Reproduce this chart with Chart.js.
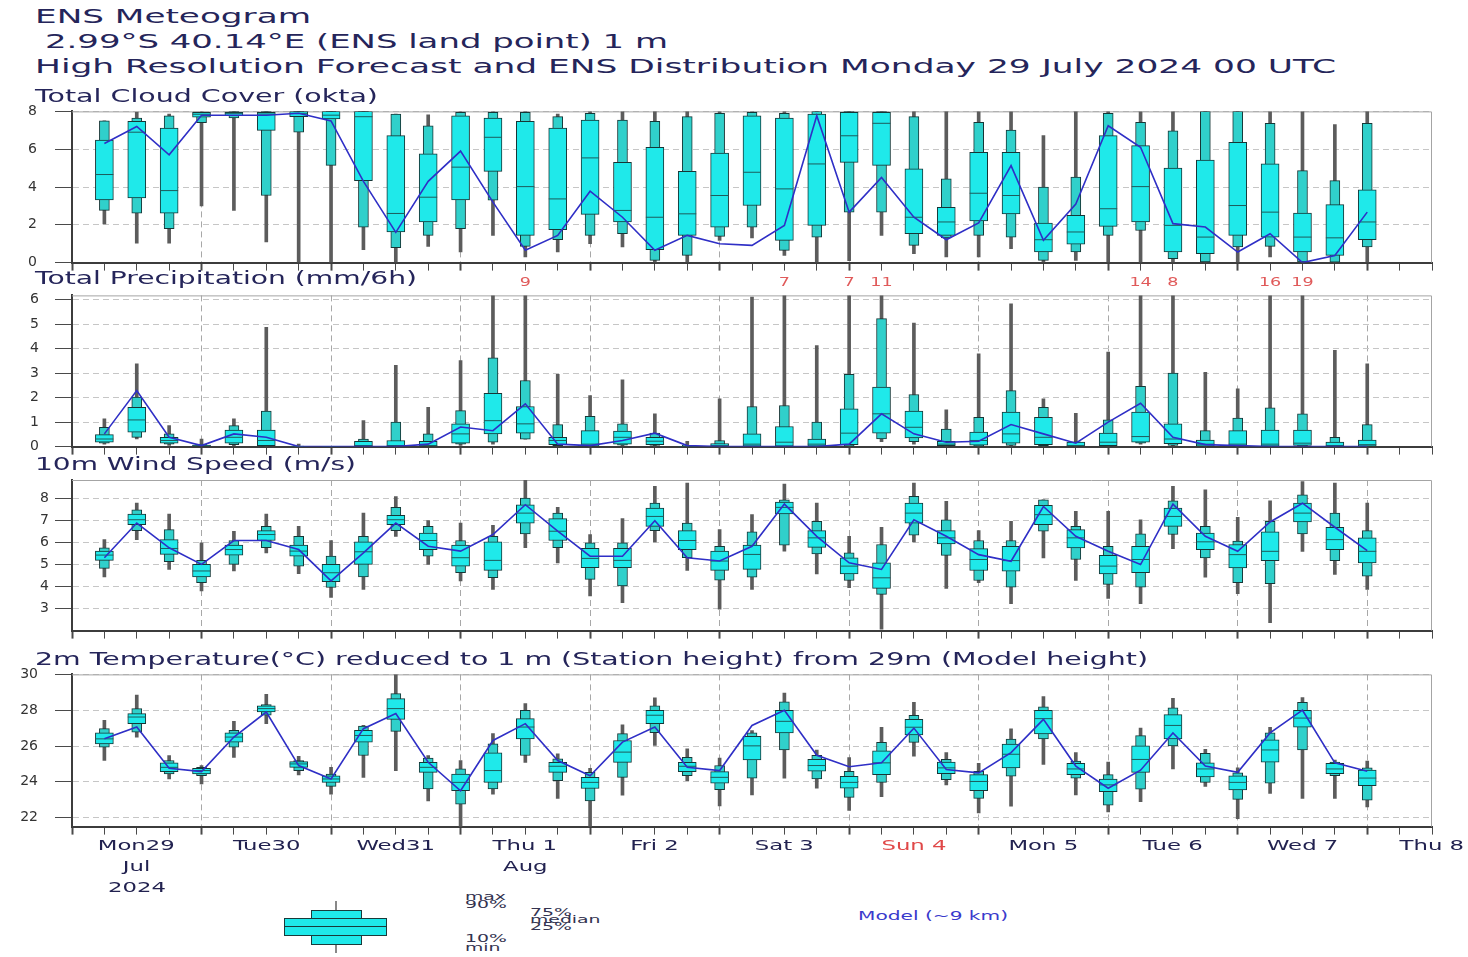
<!DOCTYPE html>
<html><head><meta charset="utf-8">
<script src="https://cdn.jsdelivr.net/npm/chart.js@4.4.1/dist/chart.umd.min.js"></script>
<style>
html,body{margin:0;padding:0;background:#fff;width:1468px;height:957px;overflow:hidden;}
#root{position:relative;width:1468px;height:957px;}
canvas{position:absolute;left:0;}
.t{position:absolute;white-space:pre;font-family:'DejaVu Sans',sans-serif;color:#25255a;transform-origin:0 50%;line-height:1;z-index:5;}
.d{position:absolute;white-space:pre;font-family:'DejaVu Sans Condensed','DejaVu Sans',sans-serif;font-stretch:condensed;color:#222250;line-height:1;font-size:14px;z-index:5;transform-origin:50% 50%;}
.lg{position:absolute;white-space:pre;font-family:'DejaVu Sans Condensed','DejaVu Sans',sans-serif;font-stretch:condensed;color:#333350;line-height:1;font-size:11px;z-index:5;transform:scaleX(1.9);transform-origin:0 50%;}
.box{position:absolute;box-sizing:border-box;}
</style></head>
<body><div id="root">
<div class="t" style="left:35px;top:7px;font-size:19px" data-w="276">ENS Meteogram</div>
<div class="t" style="left:45px;top:32px;font-size:19px" data-w="623">2.99°S 40.14°E (ENS land point) 1 m</div>
<div class="t" style="left:35px;top:57px;font-size:19px" data-w="1301">High Resolution Forecast and ENS Distribution Monday 29 July 2024 00 UTC</div>
<div class="t" style="left:35px;top:88px;font-size:17px" data-w="343">Total Cloud Cover (okta)</div>
<div class="t" style="left:35px;top:270px;font-size:17px" data-w="382">Total Precipitation (mm/6h)</div>
<div class="t" style="left:35px;top:456px;font-size:17px" data-w="321">10m Wind Speed (m/s)</div>
<div class="t" style="left:35px;top:651px;font-size:17px" data-w="1113">2m Temperature(°C) reduced to 1 m (Station height) from 29m (Model height)</div>

<canvas id="c1"></canvas><canvas id="c2"></canvas><canvas id="c3"></canvas><canvas id="c4"></canvas>

<div class="box" style="left:335px;top:901px;width:2px;height:52px;background:#888"></div>
<div class="box" style="left:311px;top:910px;width:51px;height:35px;background:#1fe9ea;border:1px solid #1a3a3a"></div>
<div class="box" style="left:284px;top:918px;width:103px;height:18px;background:#1fe9ea;border:1px solid #1a3a3a"></div>
<div class="box" style="left:284px;top:926px;width:103px;height:1px;background:#1a3a3a"></div>
<div class="lg" style="left:465px;top:891px">max</div>
<div class="lg" style="left:465px;top:899px">90%</div>
<div class="lg" style="left:530px;top:907px">75%</div>
<div class="lg" style="left:530px;top:914px">median</div>
<div class="lg" style="left:530px;top:921px">25%</div>
<div class="lg" style="left:465px;top:933px">10%</div>
<div class="lg" style="left:465px;top:942px">min</div>
<div class="t" style="left:858px;top:909px;font-size:13px;color:#3a3acc" data-w="150">Model (~9 km)</div>
<div id="xl"></div>
</div>
<script>
const hours=[6,12,18,24,30,36,42,48,54,60,66,72,78,84,90,96,102,108,114,120,126,132,138,144,150,156,162,168,174,180,186,192,198,204,210,216,222,228,234,240];

const cloudMin=[2.05,1.03,1.03,3.0,2.76,1.09,0,0,0.68,0,0.86,0.56,1.44,0.3,0.56,1.0,0.83,0,0,1.18,1.3,0.38,0,0.1,1.44,0.47,0.3,0.3,0.74,0,0.12,0,0,0,0,0,0.3,0,0,0];
const cloudP10=[2.76,2.62,1.79,7.4,7.65,3.55,6.9,5.14,1.88,0.79,1.44,1.79,3.3,0.86,1.21,1.44,1.53,0.12,0.38,1.39,1.88,0.65,1.35,2.67,2.67,0.91,1.31,1.44,1.35,0.12,0.56,1.44,1.7,0.21,0.03,0.83,0.86,0.03,0,0.83];
const cloudP25=[3.32,3.42,2.62,7.7,7.77,7.0,7.72,7.6,4.34,1.62,2.15,3.32,4.83,1.44,1.74,2.55,2.15,0.68,1.44,1.88,3.02,1.18,1.97,5.3,5.14,1.53,1.44,2.2,2.58,0.56,0.97,1.92,2.15,0.56,0.47,1.44,1.35,0.56,0.38,1.21];
const cloudMed=[4.66,6.9,3.81,7.85,7.9,7.86,7.9,7.8,7.72,2.6,3.46,5.05,6.63,4.02,3.37,5.54,2.76,2.4,2.58,3.55,4.78,3.9,5.22,6.71,7.37,2.4,2.15,3.67,3.55,1.21,1.62,2.85,4.02,1.97,1.35,3.02,2.67,1.35,1.31,2.15];
const cloudP75=[6.48,7.47,7.12,7.95,7.95,7.95,8,8,8,6.72,5.75,7.77,7.65,7.47,7.12,7.54,5.3,6.1,4.83,5.79,7.77,7.65,7.86,7.95,7.95,4.96,2.93,5.84,5.84,2.09,2.5,6.72,6.19,5.0,5.43,6.36,5.22,2.62,3.07,3.85];
const cloudP90=[7.5,7.65,7.77,7.95,8,8,8,8,8,7.86,7.24,7.95,7.95,7.95,7.72,7.9,7.54,7.47,7.72,7.9,7.95,7.9,8,8,8,7.72,4.43,7.42,7.01,3.99,4.52,7.9,7.42,6.97,8,8,7.37,4.87,4.34,7.37];
const cloudMax=[7.5,7.95,7.86,8,8,8,8,8,8,7.86,7.82,8,8,8,7.86,8,8,8,8,8,8,8,8,8,8,8,8,8,8,6.72,8,8,8,8,8,8,8,8,7.3,8];
const cloudModel=[6.3,7.2,5.7,7.8,7.8,7.8,7.9,7.5,4.3,1.6,4.3,5.9,3.2,0.65,1.44,3.78,2.4,0.65,1.44,1.0,0.91,1.97,7.77,2.67,4.5,2.4,1.21,2.1,5.13,1.18,3.1,7.24,6.1,2.06,1.88,0.56,1.53,0.0,0.38,2.67];

const precMin=[0.1,0.31,0.05,0,0.03,0,0,0,0,0,0,0.05,0.1,0.3,0,0,0.03,0.02,0,0,0,0,0,0,0.2,0.1,0,0,0,0,0,0,0.1,0,0,0,0,0,0,0];
const precP10=[0.14,0.38,0.1,0,0.08,0.02,0,0,0,0,0,0.1,0.18,0.3,0.04,0,0.06,0.05,0,0,0,0,0,0,0.31,0.2,0,0,0.05,0.04,0,0,0.14,0.05,0,0,0,0,0,0];
const precP25=[0.18,0.59,0.14,0.02,0.14,0.04,0,0,0,0,0,0.14,0.52,0.55,0.08,0,0.1,0.08,0,0,0,0,0,0.08,0.55,0.35,0.04,0.06,0.14,0.08,0,0.04,0.18,0.12,0.02,0,0,0.05,0,0];
const precMed=[0.31,1.09,0.25,0.04,0.38,0.25,0,0,0.04,0.04,0.04,0.52,1.06,0.93,0.25,0.1,0.38,0.22,0,0.03,0.1,0.18,0.1,0.55,1.34,0.79,0.1,0.25,0.52,0.38,0.04,0.18,0.41,0.31,0.1,0.1,0.1,0.14,0.04,0.08];
const precP75=[0.49,1.61,0.38,0.06,0.68,0.68,0,0,0.22,0.25,0.22,0.93,2.18,1.64,0.38,0.65,0.63,0.38,0,0.12,0.52,0.82,0.31,1.54,2.43,1.45,0.22,0.59,1.41,1.2,0.18,0.55,1.41,0.93,0.27,0.65,0.68,0.68,0.18,0.27];
const precP90=[0.79,2.02,0.52,0.1,0.86,1.45,0.02,0,0.31,1.0,0.52,1.47,3.63,2.7,0.9,1.24,0.93,0.55,0.05,0.25,1.64,1.68,1.0,2.95,5.23,2.13,0.72,1.2,2.29,1.61,0.2,1.09,2.46,3.0,0.65,1.17,1.58,1.34,0.38,0.9];
const precMax=[1.13,3.38,0.86,0.31,1.13,4.88,0.1,0,1.06,3.32,1.61,3.52,6.2,9,2.95,2.09,2.73,1.34,0.22,1.95,6.11,7,4.13,7,11,5.05,1.5,3.79,5.84,1.95,1.36,3.86,14,8,3.04,2.36,16,19,3.93,3.38];
const precModel=[0.52,2.29,0.38,0.04,0.52,0.38,0,0,0,0,0.1,0.8,0.65,1.75,0.1,0.04,0.25,0.55,0.04,0,0,0,0,0.1,1.34,0.52,0.18,0.22,0.9,0.52,0.14,1.0,1.77,0.38,0.08,0.04,0,0,0,0];

const windMin=[4.43,6.12,4.77,3.8,4.7,5.52,4.58,3.5,3.87,6.27,5.0,4.25,3.87,5.75,5.07,3.57,3.27,6.02,4.73,2.97,3.86,5.6,4.57,3.94,2.06,6.02,3.91,4.17,3.22,5.29,4.27,3.46,3.22,5.71,4.42,3.67,2.36,5.59,4.54,3.86];
const windP10=[4.82,6.53,5.12,4.17,5.0,5.75,4.92,3.95,4.43,6.53,5.37,4.62,4.4,6.38,5.75,4.32,4.02,6.53,5.3,4.28,4.42,5.87,5.47,4.27,3.64,6.32,5.41,4.27,3.97,6.5,5.22,4.09,3.97,6.35,5.29,4.17,4.12,6.38,5.17,4.47];
const windP25=[5.18,6.8,5.45,4.43,5.42,6.08,5.37,4.22,5.0,6.8,5.67,4.92,4.73,6.87,6.08,4.85,4.85,6.72,5.67,4.73,4.77,7.28,5.77,4.57,3.91,6.87,5.92,4.72,4.69,6.8,5.74,4.57,4.62,6.72,5.67,4.84,5.17,6.92,5.67,5.07];
const windMed=[5.42,7.02,5.72,4.7,5.67,6.35,5.6,4.62,5.57,7.02,6.08,5.3,5.18,7.32,6.5,5.27,5.18,7.17,6.08,5.15,5.45,7.58,6.2,4.92,4.39,7.32,6.2,5.22,5.17,7.25,6.2,4.92,5.22,7.17,6.02,5.44,5.59,7.32,6.12,5.59];
const windP75=[5.6,7.28,6.12,5.0,5.87,6.53,5.87,5.0,6.02,7.22,6.42,5.87,6.02,7.7,7.07,5.72,5.72,7.55,6.53,5.6,5.87,7.82,6.53,5.3,5.07,7.77,6.53,5.71,5.82,7.67,6.57,5.41,5.82,7.55,6.42,5.9,6.47,7.77,6.68,6.2];
const windP90=[5.75,7.47,6.57,5.18,6.08,6.72,6.27,5.37,6.27,7.58,6.72,6.08,6.27,8.0,7.32,5.97,5.97,7.77,6.87,5.82,6.47,7.92,6.95,5.52,5.9,8.08,7.02,6.08,6.08,7.92,6.72,5.82,6.38,7.88,6.72,6.05,6.95,8.15,7.32,6.53];
const windMax=[6.12,7.77,7.28,5.97,6.5,7.28,6.72,6.08,7.32,8.07,6.98,6.87,6.77,8.83,7.58,6.35,7.07,8.53,8.68,6.57,7.25,8.63,7.77,6.27,6.68,8.68,7.85,6.53,6.95,7.92,7.4,7.4,7.02,8.53,8.38,7.13,7.88,8.75,8.68,7.77];
const windModel=[5.3,6.87,5.75,5.0,6.08,6.08,5.67,4.25,5.52,6.87,5.82,5.6,6.35,7.7,6.5,5.37,5.37,6.98,5.3,5.15,5.82,7.73,6.27,5.07,4.77,7.02,6.27,5.44,5.14,7.62,6.27,5.59,4.99,7.73,6.27,5.59,6.92,7.77,6.68,5.62];

const tempMin=[25.19,26.5,24.16,23.88,25.37,27.25,24.38,23.31,24.25,24.63,22.94,21.3,23.31,25.09,23.07,21.3,23.26,26.03,24.06,22.66,23.27,24.21,23.64,22.41,23.17,25.44,23.83,22.26,22.64,24.97,23.27,22.32,22.89,24.72,23.74,21.94,23.36,23.08,23.08,22.6];
const tempP10=[25.94,26.78,24.44,24.34,25.94,27.72,24.63,23.75,25.47,26.82,23.6,22.75,23.6,25.47,24.06,22.94,24.25,26.74,24.34,23.56,24.21,25.78,24.16,23.13,23.97,26.2,24.12,23.08,24.31,26.39,24.21,22.7,23.59,26.01,23.97,23.02,23.93,25.78,24.34,22.98];
const tempP25=[26.12,27.25,24.57,24.44,26.22,27.9,24.81,23.97,26.22,27.49,24.53,23.5,23.97,26.4,24.53,23.63,25.09,27.25,24.57,23.93,25.22,26.73,24.59,23.64,24.4,26.62,24.46,23.51,24.78,26.67,24.4,23.45,24.53,26.39,24.27,23.55,25.1,27.05,24.46,23.78];
const tempMed=[26.4,27.62,24.81,24.63,26.5,28.09,25.0,24.16,26.59,28.09,24.81,23.97,24.63,27.06,24.87,23.97,25.66,27.72,24.87,24.25,26.01,27.38,24.91,23.97,25.06,27.05,24.78,24.02,25.54,27.53,24.72,23.83,25.25,27.15,24.72,23.97,25.78,27.56,24.72,24.21];
const tempP75=[26.74,27.81,25.06,24.76,26.74,28.24,25.13,24.34,26.87,28.65,25.09,24.44,25.62,27.53,25.09,24.25,26.31,28.0,25.09,24.57,26.54,28.0,25.25,24.31,25.73,27.49,25.1,24.4,26.11,28.0,25.03,24.16,26.01,27.75,25.06,24.34,26.35,28.0,25.03,24.65];
const tempP90=[26.97,28.09,25.19,24.81,26.87,28.31,25.19,24.44,27.12,28.93,25.32,24.72,26.12,28.0,25.28,24.53,26.69,28.24,25.37,24.91,26.73,28.47,25.48,24.59,26.2,27.72,25.25,24.59,26.39,28.19,25.16,24.4,26.58,28.13,25.59,24.5,26.73,28.44,25.1,24.78];
const tempMax=[27.43,28.84,25.47,24.91,27.38,28.88,25.43,24.81,27.15,30.0,25.47,25.19,26.69,28.37,25.56,24.76,27.19,28.69,25.84,25.32,26.86,28.95,25.78,25.35,27.05,28.44,25.63,25.03,26.96,28.76,25.63,25.1,27.0,28.66,25.82,24.78,27.05,28.7,25.22,25.16];
const tempModel=[26.4,27.06,24.76,24.57,26.5,27.9,24.91,24.16,26.97,27.81,25.09,23.5,26.31,27.25,25.19,24.34,26.22,27.06,24.81,24.63,27.15,28.0,25.48,24.84,25.06,27.0,24.69,24.5,25.63,27.49,24.88,23.64,24.65,26.73,24.88,24.53,26.73,28.0,25.06,24.59];

const dayLabels=['Mon29','Tue30','Wed31','Thu 1','Fri 2','Sat 3','Sun 4','Mon 5','Tue 6','Wed 7','Thu 8'];
const dayLabelHours=[12,36,60,84,108,132,156,180,204,228,252];
const dayLabel2=['Jul','','','Aug','','','','','','',''];
const dayLabel3=['2024','','','','','','','','','',''];
const dayLabelColors=['#222250','#222250','#222250','#222250','#222250','#222250','#e04848','#222250','#222250','#222250','#222250'];

const framePlugin={id:'frame',beforeDatasetsDraw(chart){const {ctx,chartArea:a}=chart;ctx.save();ctx.strokeStyle='#a4a4a4';ctx.lineWidth=1;ctx.beginPath();ctx.moveTo(a.left,a.top+0.5);ctx.lineTo(a.right-0.5,a.top+0.5);ctx.lineTo(a.right-0.5,a.bottom);ctx.stroke();ctx.restore();}};
const overflowPlugin={id:'overflow',afterDatasetsDraw(chart,args,opts){if(!opts||!opts.values)return;const {ctx,chartArea,scales:{x,y}}=chart;ctx.save();ctx.font='13px "DejaVu Sans"';ctx.fillStyle='#e05a5a';ctx.textAlign='center';ctx.textBaseline='middle';opts.values.forEach((v,i)=>{if(Math.round(v)>y.max+0.5){const px=x.getPixelForValue(hours[i]);ctx.save();ctx.translate(px,chartArea.top-13);ctx.scale(1.35,1);ctx.fillText(String(Math.round(v)),0,0);ctx.restore();}});ctx.restore();}};

function makeConfig(xh,yMin,yMax,yTicks,labPad,s,overflow){
  const pts=a=>hours.map((h,i)=>({x:h,y:a[i]}));
  const rng=(a,b)=>hours.map((h,i)=>({x:h,y:[a[i],b[i]]}));
  const xt=[];for(let h=0;h<=252;h+=6)xt.push(h);
  return {
    type:'bar',
    data:{datasets:[
      {type:'line',data:pts(s.model),borderColor:'#2f2fc6',borderWidth:1.6,pointRadius:0,tension:0,order:0},
      {type:'line',data:pts(s.med),showLine:false,pointStyle:'line',pointRadius:9,pointBorderColor:'#1d5c5c',pointBorderWidth:1,pointBackgroundColor:'#1d5c5c',order:1},
      {data:rng(s.p25,s.p75),barThickness:18,backgroundColor:'#1fe9ea',borderColor:'#163636',borderWidth:1,borderSkipped:false,order:2},
      {data:rng(s.p10,s.p90),barThickness:10,backgroundColor:'#30d0cb',borderColor:'#163636',borderWidth:1,borderSkipped:false,order:3},
      {data:rng(s.min,s.max),barThickness:3,backgroundColor:'#5c5c5c',borderWidth:0,order:4}
    ]},
    options:{
      responsive:false,maintainAspectRatio:false,animation:false,events:[],
      layout:{padding:{top:20,right:36,left:0,bottom:0},autoPadding:false},
      datasets:{bar:{grouped:false}},
      plugins:{legend:{display:false},tooltip:{enabled:false},overflow:overflow?{values:overflow}:{}},
      scales:{
        x:{type:'linear',min:0,max:252,offset:false,afterBuildTicks:sc=>{sc.ticks=xt.map(v=>({value:v}));},
           ticks:{display:false},
           grid:{offset:false,color:c=>(c.tick&&c.tick.value%24===0&&c.tick.value>0&&c.tick.value<252)?'#a8a8a8':'rgba(0,0,0,0)',
                 tickColor:'#4a4a4a',tickLength:8,tickWidth:c=>(c.tick&&c.tick.value%24===0)?2:1,lineWidth:1},
           border:{display:true,color:'#3c3c3c',width:2,dash:[6,4]},
           afterFit:sc=>{sc.height=xh;}},
        y:{min:yMin,max:yMax,afterBuildTicks:sc=>{sc.ticks=yTicks.map(v=>({value:v}));},
           ticks:{color:'#333',font:{family:'DejaVu Sans',size:14},padding:labPad},
           grid:{color:c=>(c.tick&&c.tick.value===yMin)?'rgba(0,0,0,0)':'#c6c6c6',tickColor:'#4a4a4a',tickLength:17,lineWidth:1},
           border:{display:true,color:'#3c3c3c',width:2,dash:[6,4]},
           afterFit:sc=>{sc.width=72;}}
      }
    },
    plugins:[framePlugin,overflowPlugin]
  };
}

function panel(id,top,bottom,xh,yMin,yMax,yTicks,labPad,s,overflow){
  const cv=document.getElementById(id);
  let H=20+(bottom-top)+xh, cTop=top-20;
  cv.width=1468;cv.height=H;cv.style.top=cTop+'px';
  let chart=new Chart(cv,makeConfig(xh,yMin,yMax,yTicks,labPad,s,overflow));
  for(let k=0;k<3;k++){
    const a=chart.chartArea;
    const dTop=(cTop+a.top)-top, dBot=(cTop+a.bottom)-bottom;
    if(Math.abs(dTop)<0.5&&Math.abs(dBot)<0.5)break;
    cTop-=dTop; H+=dTop-dBot;
    chart.destroy();
    cv.width=1468;cv.height=Math.round(H);cv.style.top=cTop+'px';cv.style.width='1468px';cv.style.height=Math.round(H)+'px';
    chart=new Chart(cv,makeConfig(xh,yMin,yMax,yTicks,labPad,s,overflow));
  }
  return chart;
}

panel('c1',111,262,10,0,8,[0,2,4,6,8],18,{min:cloudMin,p10:cloudP10,p25:cloudP25,med:cloudMed,p75:cloudP75,p90:cloudP90,max:cloudMax,model:cloudModel});
panel('c2',295,446,10,0,6.18,[0,1,2,3,4,5,6],16,{min:precMin,p10:precP10,p25:precP25,med:precMed,p75:precP75,p90:precP90,max:precMax,model:precModel},precMax);
panel('c3',480,631,10,2,8.82,[3,4,5,6,7,8],6,{min:windMin,p10:windP10,p25:windP25,med:windMed,p75:windP75,p90:windP90,max:windMax,model:windModel});
const tc=panel('c4',674,826,12,21.5,30,[22,24,26,28,30],17,{min:tempMin,p10:tempP10,p25:tempP25,med:tempMed,p75:tempP75,p90:tempP90,max:tempMax,model:tempModel});

document.querySelectorAll('.t[data-w]').forEach(el=>{const w=el.getBoundingClientRect().width;el.style.transform='scaleX('+(parseFloat(el.dataset.w)/w)+')';});

const xl=document.getElementById('xl');
const xs=tc.scales.x;
let sx=null;
dayLabelHours.forEach((h,i)=>{
  const px=xs.getPixelForValue(h);
  [[dayLabels[i],838],[dayLabel2[i],859],[dayLabel3[i],880]].forEach(([txt,y])=>{
    if(!txt)return;
    const d=document.createElement('div');d.className='d';d.textContent=txt;d.style.color=dayLabelColors[i];
    xl.appendChild(d);
    const w=d.getBoundingClientRect().width;
    if(sx===null){sx=77/w;}
    d.style.left=(px-w/2)+'px';d.style.top=y+'px';d.style.transform='scaleX('+sx+')';
  });
});
</script>
</body></html>
